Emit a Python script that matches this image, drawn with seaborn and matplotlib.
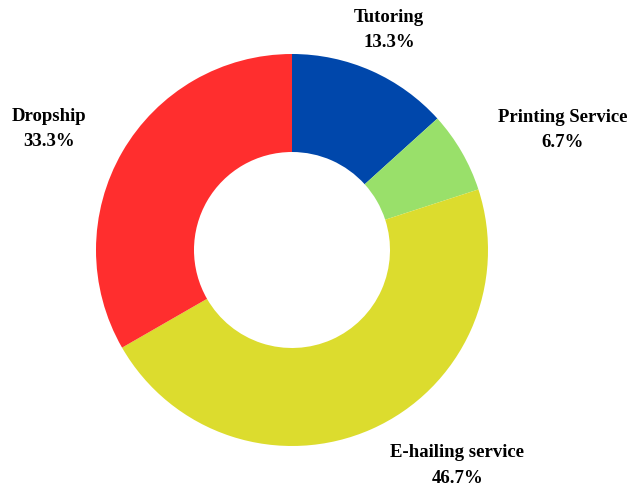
import matplotlib
matplotlib.use("Agg")
import matplotlib.pyplot as plt
import seaborn as sns

sns.set_theme(style="white")
plt.rcParams["font.family"] = ["Liberation Serif", "DejaVu Serif"]

categories = ["Tutoring", "Printing Service", "E-hailing service", "Dropship"]
shares = [13.3, 6.7, 46.7, 33.3]
colors = ["#0047AB", "#99E06A", "#DCDC2E", "#FF2E2E"]

# label anchor positions (in units of the outer radius)
label_pos = [(0.495, 1.122), (1.38, 0.612), (0.844, -1.10), (-1.24, 0.617)]

fig = plt.figure(figsize=(6.27, 4.86), dpi=100)
ax = fig.add_axes([0, 0, 1, 1])

ax.pie(shares, colors=colors, startangle=90, counterclock=False,
       radius=1.0, wedgeprops=dict(width=0.5, edgecolor="none", linewidth=0))

for name, val, (x, y) in zip(categories, shares, label_pos):
    ax.text(x, y, f"{name}\n{val:.1f}%", ha="center", va="center",
            fontsize=13.5, fontweight="bold", color="black", linespacing=1.65)

ax.set_xlim(-292 / 196, (627 - 292) / 196)
ax.set_ylim(-(486 - 250) / 196, 250 / 196)
ax.set_aspect("auto")
ax.axis("off")

fig.savefig("out.png", dpi=100, facecolor="white")
